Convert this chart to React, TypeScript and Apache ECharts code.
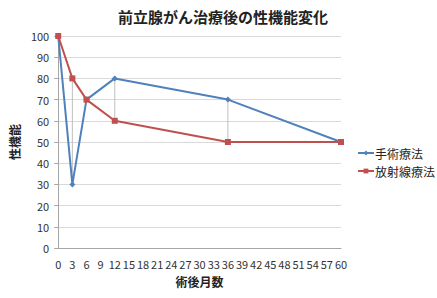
import React, { useEffect, useRef } from "react";
import * as echarts from "echarts";

const titleText = "前立腺がん治療後の性機能変化";
const xName = "術後月数";
const yName = "性機能";
const months = [0, 3, 6, 12, 36, 60];
const surgeryName = "手術療法";
const radiationName = "放射線療法";
const surgery = [100, 30, 70, 80, 70, 50];
const radiation = [100, 80, 70, 60, 50, 50];

const FONT = "'Noto Sans CJK JP', 'Noto Sans', sans-serif";

export default function App() {
  const ref = useRef<HTMLDivElement>(null);
  useEffect(() => {
    if (!ref.current) return;
    const chart = echarts.init(ref.current, undefined, { renderer: "svg" });
    const hiLo = months.map((m, i) => [m, surgery[i], radiation[i]]);
    chart.setOption({
      animation: false,
      textStyle: { fontFamily: FONT },
      title: {
        text: titleText,
        left: 218,
        textAlign: "center",
        top: 4,
        textStyle: { fontSize: 15, fontWeight: "bold", color: "#222", fontFamily: FONT },
      },
      grid: { left: 56, right: 96, top: 36, bottom: 50, containLabel: false },
      legend: {
        orient: "vertical",
        left: 352,
        top: 142,
        itemWidth: 16,
        itemHeight: 6,
        itemGap: 6,
        textStyle: { fontSize: 12, color: "#222", fontFamily: FONT, padding: [0, 0, 0, -4] },
        data: [surgeryName, radiationName],
      },
      xAxis: {
        type: "value",
        min: 0,
        max: 60,
        interval: 3,
        name: xName,
        nameLocation: "middle",
        nameGap: 27,
        nameTextStyle: { fontSize: 12, fontWeight: "bold", color: "#222", fontFamily: FONT },
        axisLine: { show: true, lineStyle: { color: "#a6a6a6" } },
        axisTick: { show: false },
        splitLine: { show: false },
        axisLabel: { fontSize: 11, color: "#333", margin: 10, fontFamily: FONT },
      },
      yAxis: {
        type: "value",
        min: 0,
        max: 100,
        interval: 10,
        offset: 2,
        name: yName,
        nameLocation: "middle",
        nameRotate: 90,
        nameGap: 32,
        nameTextStyle: { fontSize: 12, fontWeight: "bold", color: "#222", fontFamily: FONT },
        axisLine: { show: true, lineStyle: { color: "#a6a6a6" } },
        axisTick: { show: true, length: 4, inside: false, lineStyle: { color: "#a6a6a6" } },
        splitLine: { show: true, lineStyle: { color: "#d9d9d9", width: 1 } },
        axisLabel: { fontSize: 11, color: "#333", margin: 7, fontFamily: FONT },
      },
      series: [
        {
          type: "custom",
          name: "hilo",
          silent: true,
          z: 1,
          data: hiLo,
          renderItem: (params: any, api: any) => {
            const p1 = api.coord([api.value(0), api.value(1)]);
            const p2 = api.coord([api.value(0), api.value(2)]);
            return {
              type: "line",
              shape: { x1: p1[0], y1: p1[1], x2: p2[0], y2: p2[1] },
              style: { stroke: "#bfbfbf", lineWidth: 1 },
            };
          },
        },
        {
          type: "line",
          name: surgeryName,
          data: months.map((m, i) => [m, surgery[i]]),
          symbol: "diamond",
          symbolSize: 6,
          z: 2,
          lineStyle: { color: "#4F81BD", width: 2 },
          itemStyle: { color: "#4F81BD" },
        },
        {
          type: "line",
          name: radiationName,
          data: months.map((m, i) => [m, radiation[i]]),
          symbol: "rect",
          symbolSize: 6,
          z: 3,
          lineStyle: { color: "#C0504D", width: 2 },
          itemStyle: { color: "#C0504D" },
        },
      ],
    });
    return () => chart.dispose();
  }, []);
  return <div ref={ref} style={{ width: 437, height: 298, position: "absolute", left: 0, top: 0 }} />;
}
